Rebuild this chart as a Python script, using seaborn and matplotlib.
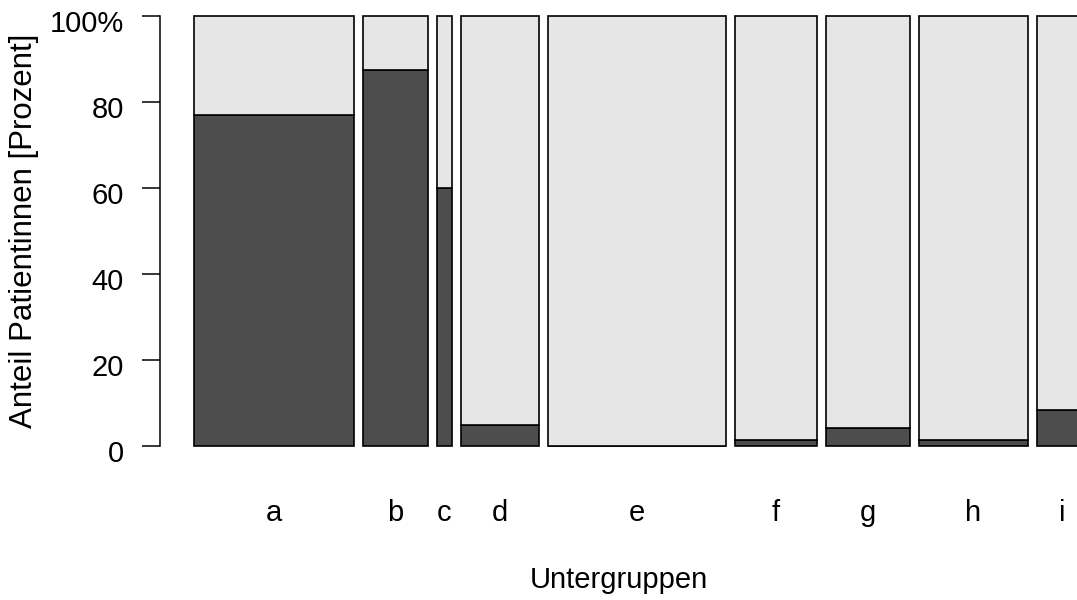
import numpy as np
import matplotlib
matplotlib.use("Agg")
import matplotlib.pyplot as plt
import matplotlib.transforms as mtransforms
import seaborn as sns

# ---- data ----
groups = ["a", "b", "c", "d", "e", "f", "g", "h", "i"]
group_sizes = [160, 65, 15, 78, 178, 82, 84, 109, 51]       # relative group sizes (bar widths)
pct_dark = [77.0, 87.5, 60.0, 5.0, 0.0, 1.4, 4.2, 1.4, 8.4]  # share of dark category in %
ytick_vals = [0, 20, 40, 60, 80, 100]
ytick_labels = ["0", "20", "40", "60", "80", "100%"]

sns.set_theme(style="ticks")
plt.rcParams["font.family"] = ["Liberation Sans", "DejaVu Sans"]

FS = 21
W, H = 1077, 600
fig = plt.figure(figsize=(W / 100, H / 100), dpi=100)
ax_left, ax_right, ax_top, ax_bottom = 160, 1077, 16, 446
ax = fig.add_axes([ax_left / W, (H - ax_bottom) / H,
                   (ax_right - ax_left) / W, (ax_bottom - ax_top) / H])

gap = 9.0
offset = 33.7
sizes = np.array(group_sizes, dtype=float)
lefts = offset + np.concatenate([[0], np.cumsum(sizes[:-1] + gap)])
centers = lefts + sizes / 2
dark = np.array(pct_dark)

dark_col = "#4D4D4D"
light_col = "#E6E6E6"
ax.bar(lefts, dark, width=sizes, align="edge", color=dark_col,
       edgecolor="black", linewidth=1.2, clip_on=False)
ax.bar(lefts, 100 - dark, bottom=dark, width=sizes, align="edge",
       color=light_col, edgecolor="black", linewidth=1.2, clip_on=False)

ax.set_xlim(0, ax_right - ax_left)
ax.set_ylim(0, 100)

for s in ["top", "right", "bottom"]:
    ax.spines[s].set_visible(False)
ax.spines["left"].set_linewidth(1.1)
ax.spines["left"].set_color("black")

ax.set_yticks(ytick_vals)
ax.set_yticklabels(ytick_labels)
ax.tick_params(axis="y", length=13, width=1.1, color="black",
               labelsize=FS, pad=13, labelcolor="black")
shift = mtransforms.ScaledTranslation(0, -5 / 100, fig.dpi_scale_trans)
for lbl in ax.get_yticklabels():
    lbl.set_transform(lbl.get_transform() + shift)

ax.set_xticks(centers)
ax.set_xticklabels(groups)
ax.tick_params(axis="x", length=0, labelsize=FS, pad=38, labelcolor="black")

ax.set_xlabel("Untergruppen", fontsize=FS, labelpad=28, color="black")
ax.set_ylabel("Anteil Patientinnen [Prozent]", fontsize=22.5, labelpad=8, color="black")

ax.set_facecolor("white")
fig.patch.set_facecolor("white")
fig.savefig("out.png", dpi=100, facecolor="white")
